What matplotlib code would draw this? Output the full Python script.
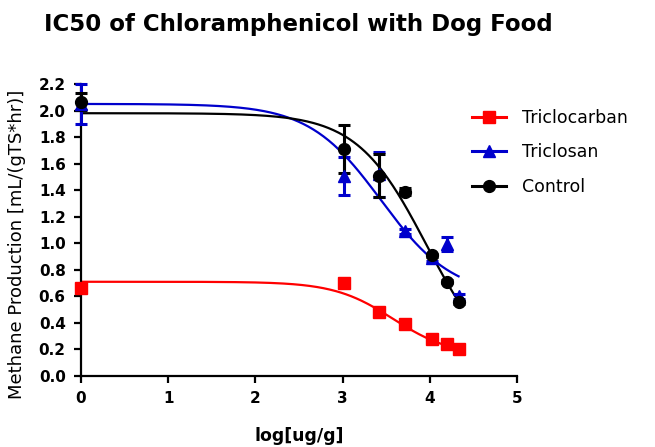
import numpy as np
import matplotlib
matplotlib.use("Agg")
import matplotlib.pyplot as plt

plt.rcParams['font.family'] = ['DejaVu Sans']

# log concentration of each dose
log_dose = [0, 3.02, 3.42, 3.72, 4.02, 4.2, 4.33]

# mean methane production and error (mL/(gTS*hr))
tcc_mean = [0.665, 0.70, 0.48, 0.39, 0.28, 0.24, 0.20]
tcc_err = [0.0, 0.0, 0.0, 0.0, 0.0, 0.0, 0.0]
tcs_mean = [2.05, 1.505, 1.52, 1.09, 0.89, 0.995, 0.60]
tcs_err = [0.15, 0.145, 0.17, 0.02, 0.02, 0.055, 0.02]
ctl_mean = [2.067, 1.71, 1.51, 1.39, 0.91, 0.71, 0.555]
ctl_err = [0.065, 0.18, 0.16, 0.03, 0.01, 0.01, 0.01]

# four-parameter logistic fits: top, bottom, logIC50, hill slope
tcc_fit = [0.71, 0.15, 3.58, 1.28]
tcs_fit = [2.05, 0.60, 3.44, 1.05]
ctl_fit = [1.98, 0.00, 3.96, 1.09]

labels = ['Triclocarban', 'Triclosan', 'Control']
colors = ['#ff0000', '#0000cc', '#000000']
markers = ['s', '^', 'o']


def four_pl(x, p):
    top, bottom, c, h = p
    return bottom + (top - bottom) / (1 + 10 ** ((x - c) * h))


fig = plt.figure(figsize=(6.55, 4.47), dpi=100)
ax = fig.add_axes([81 / 655, 1 - 376 / 447, 436 / 655, 292 / 447])

xs = np.linspace(0, 4.33, 300)
handles = []
for mean, err, fit, lab, col, mk in zip([tcc_mean, tcs_mean, ctl_mean],
                                         [tcc_err, tcs_err, ctl_err],
                                         [tcc_fit, tcs_fit, ctl_fit],
                                         labels, colors, markers):
    ax.plot(xs, four_pl(xs, fit), color=col, lw=1.6, zorder=2)
    eb = ax.errorbar(log_dose, mean, yerr=err, fmt='none', ecolor=col,
                     elinewidth=2.2, capsize=4.5, capthick=2.2, zorder=3)
    for art in eb.get_children():
        art.set_clip_on(False)
    ax.plot(log_dose, mean, ls='none', marker=mk, ms=8.5, color=col,
            mec=col, zorder=4, clip_on=False)
    h, = ax.plot([], [], color=col, lw=2.2, marker=mk, ms=8.5)
    handles.append(h)

ax.set_xlim(0, 5)
ax.set_ylim(0, 2.2)
ax.set_xticks(range(0, 6))
ax.set_yticks(np.arange(0, 2.21, 0.2))
ax.set_yticklabels(['%.1f' % v for v in np.arange(0, 2.21, 0.2)])
for s in ['top', 'right']:
    ax.spines[s].set_visible(False)
for s in ['left', 'bottom']:
    ax.spines[s].set_linewidth(1.6)
ax.spines['left'].set_bounds(0, 2.2)
ax.tick_params(width=1.6, length=5, labelsize=11, pad=6)
for t in ax.get_xticklabels() + ax.get_yticklabels():
    t.set_fontweight('bold')

ax.set_xlabel('log[ug/g]', fontsize=12.5, fontweight='bold', labelpad=15)
ax.set_ylabel('Methane Production [mL/(gTS*hr)]', fontsize=13)
ax.yaxis.set_label_coords(-0.125, 0.45)
fig.text(298 / 655, 1 - 25 / 447, 'IC50 of Chloramphenicol with Dog Food',
         fontsize=16.5, fontweight='bold', ha='center', va='center')

fig.legend(handles, labels, loc='upper left',
           bbox_to_anchor=(456 / 655, 1 - 93 / 447), frameon=False,
           fontsize=12.5, handlelength=2.0, handletextpad=0.9,
           labelspacing=0.95)

fig.savefig('out.png', dpi=100)
